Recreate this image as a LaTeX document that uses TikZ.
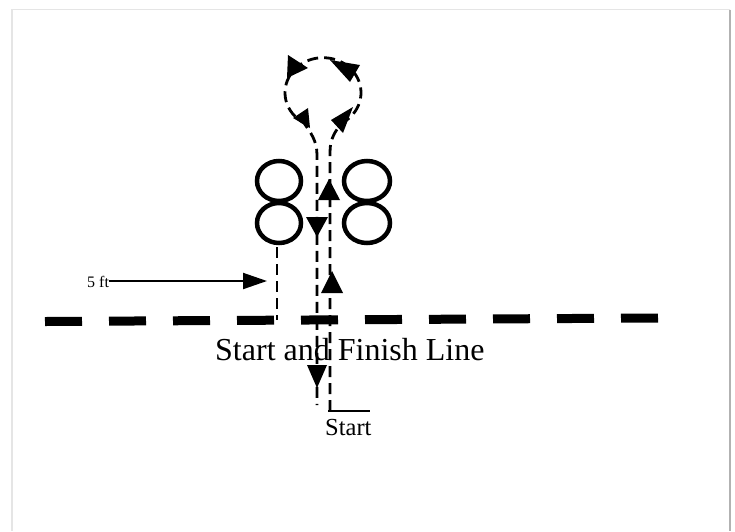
\documentclass[tikz,border=0pt]{standalone}
\usepackage{fontspec}
\setmainfont{Liberation Serif}
\usetikzlibrary{arrows.meta}
\begin{document}
\begin{tikzpicture}[x=1pt,y=-1pt,
  track/.style={line width=2.8pt, dash pattern=on 11pt off 6pt},
  eight/.style={line width=4.5pt},
  head/.style={fill=black},
  finish/.style={line width=9pt, dash pattern=on 37pt off 27pt},
  lbl/.style={anchor=base west, inner sep=0pt}]
\useasboundingbox (0,0) rectangle (735,531);
\fill[white] (0,0) rectangle (735,531);
% page frame
\draw[gray!20, line width=1.5pt] (12,531) -- (12,9.5) -- (730,9.5);
\draw[gray!60, line width=2pt] (730,9.5) -- (730,531);

% start and finish line
\coordinate (fl1) at (45,321.5);
\coordinate (fl2) at (658,318);
\draw[finish] (fl1) -- (fl2);

% figure eights
\draw[eight] (279,181) ellipse [x radius=22, y radius=20];
\draw[eight] (279,223) ellipse [x radius=22, y radius=20];
\draw[eight] (367,181) ellipse [x radius=23, y radius=20];
\draw[eight] (367,223) ellipse [x radius=23, y radius=20];

% 5 ft marker
\coordinate (m1) at (277,247);
\coordinate (m2) at (277,320);
\draw[track] (m1) -- (m2);
\node[lbl, font=\fontsize{16}{19}\selectfont] (ft) at (87,287) {5 ft};
\coordinate (fivetip) at (267,281);
\draw[line width=2pt, -{Triangle[length=24pt,width=16pt]}] (ft.east |- fivetip) -- (fivetip);

% track with loop
\coordinate (rs) at (330,411);
\coordinate (le) at (317,405);
\draw[track] (rs) -- (330,152) .. controls (330,138) and (336,130) .. (342,123)
  arc[start angle=60, end angle=-240, x radius=38, y radius=35]
  .. controls (310,132) and (317,140) .. (317,155) -- (le);

% start line
\coordinate (s1) at (328,411);
\coordinate (s2) at (370,411);
\draw[line width=2pt] (s1) -- (s2);

% arrowheads
\fill[head] (332,271) -- (321,293) -- (343,293) -- cycle;
\fill[head] (329,179) -- (318,200) -- (340,200) -- cycle;
\fill[head] (306,217) -- (328,217) -- (317,237) -- cycle;
\fill[head] (307,365) -- (327,365) -- (317,388) -- cycle;
\fill[head] (288,55) -- (308,68) -- (287,78) -- cycle;
\fill[head] (330,60) -- (360,65) -- (350,82) -- cycle;
\fill[head] (293,118) -- (308,108) -- (310,128) -- cycle;
\fill[head] (353,107) -- (331,120) -- (343,133) -- cycle;

% labels
\node[lbl, font=\fontsize{32}{38}\selectfont] (sfl) at (215,360) {Start and Finish Line};
\node[lbl, font=\fontsize{24.5}{29}\selectfont] (st) at (325,435) {Start};
\end{tikzpicture}
\end{document}
